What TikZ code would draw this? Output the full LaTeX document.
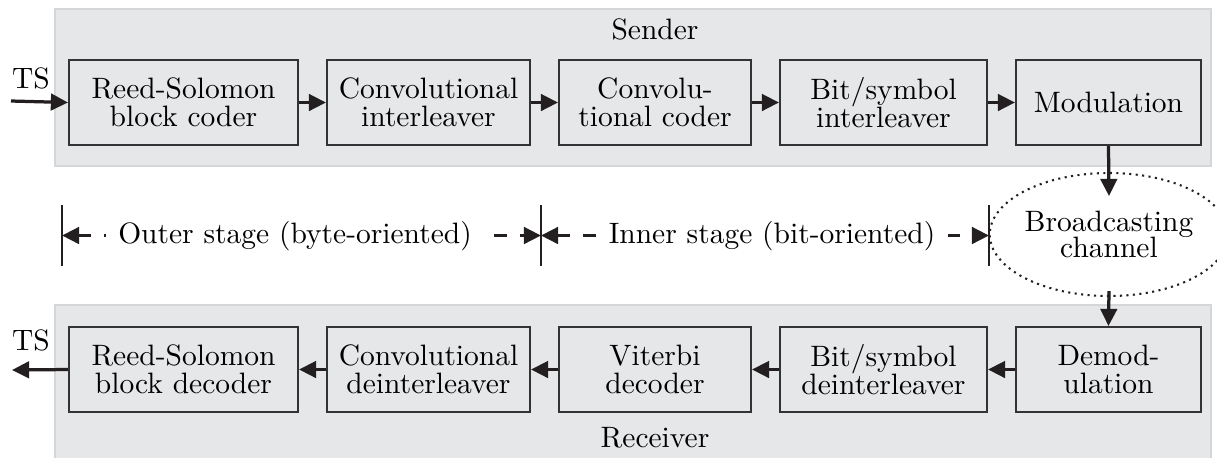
\documentclass[tikz,border=0pt]{standalone}
\usetikzlibrary{arrows.meta,shapes.geometric}
\definecolor{panelgray}{HTML}{E6E7E8}
\definecolor{paneledge}{HTML}{D5D6D7}
\definecolor{boxedge}{HTML}{333333}
\definecolor{ink}{HTML}{231F20}
% one drawing unit
\def\pxu{0.339pt}
\tikzset{
  stagearea/.style={fill=panelgray, draw=paneledge, line width=0.5pt, inner sep=0pt},
  block/.style={draw=boxedge, line width=0.7pt, inner sep=0pt, align=center,
    minimum height=85*\pxu, font=\fontsize{10}{9.5}\selectfont},
  tip/.tip={Triangle[length=5.8pt,width=5.6pt]},
  flow/.style={draw=ink, line width=1.1pt, -tip},
  limitbar/.style={draw=ink, line width=1pt},
  spanline/.style={draw=ink, line width=1.1pt, dash pattern=on 4.4pt off 4.4pt, tip-tip},
  spantext/.style={fill=white, inner sep=4.2pt, anchor=base},
  caption/.style={anchor=base, inner sep=0pt},
  channel/.style={ellipse, draw=ink, line width=0.7pt, dash pattern=on 0.7pt off 1.5pt,
    inner sep=0pt, align=center, font=\fontsize{10}{9}\selectfont}
}
\begin{document}
\begin{tikzpicture}[x=0.339pt,y=-0.339pt]
\useasboundingbox (0,0) rectangle (1217,457);

% sender and receiver panels
\node[stagearea, minimum width=1156*\pxu, minimum height=157*\pxu] (sender) at (633,87.5) {};
\node[stagearea, minimum width=1156*\pxu, minimum height=154*\pxu] (receiver) at (633,382) {};
\node[caption] (sendlab) at (655,39) {Sender};
\node[caption] (recvlab) at (655,447) {Receiver};

% sender chain
\node[block, minimum width=229*\pxu] (rsc) at (183.5,102.5) {Reed-Solomon\\block coder};
\node[block, minimum width=203*\pxu] (cil) at (428.5,102.5) {Convolutional\\interleaver};
\node[block, minimum width=192*\pxu] (cc)  at (655,102.5)   {Convolu-\\tional coder};
\node[block, minimum width=207*\pxu] (bsi) at (883.5,102.5) {Bit/symbol\\interleaver};
\node[block, minimum width=185*\pxu] (mod) at (1108.5,102.5) {Modulation};

% receiver chain
\node[block, minimum width=229*\pxu] (rsd) at (183.5,369.5) {Reed-Solomon\\block decoder};
\node[block, minimum width=203*\pxu] (cdi) at (428.5,369.5) {Convolutional\\deinterleaver};
\node[block, minimum width=192*\pxu] (vit) at (655,369.5)   {Viterbi\\decoder};
\node[block, minimum width=207*\pxu] (bsd) at (883.5,369.5) {Bit/symbol\\deinterleaver};
\node[block, minimum width=185*\pxu] (dem) at (1108.5,369.5) {Demod-\\ulation};

% channel
\node[channel, minimum width=210*\pxu, minimum height=123*\pxu] (chan) at (1109,234.5) {Broadcasting\\channel};
\coordinate (chanin)  at ([yshift=-24*\pxu]chan.north);
\coordinate (chanout) at ([yshift=6*\pxu]chan.south);

% transport stream in and out
\coordinate (tsin)  at (11,101);
\coordinate (tsout) at (12,370);
\node[caption] (tsinlab)  at (31,88)  {TS};
\node[caption] (tsoutlab) at (31,350) {TS};

% signal flow
\draw[flow] (tsin) -- (rsc.west);
\draw[flow] (rsc.east) -- (cil.west);
\draw[flow] (cil.east) -- (cc.west);
\draw[flow] (cc.east) -- (bsi.west);
\draw[flow] (bsi.east) -- (mod.west);
\draw[flow] (mod.south) -- (chanin);
\draw[flow] (chanout) -- (dem.north);
\draw[flow] (dem.west) -- (bsd.east);
\draw[flow] (bsd.west) -- (vit.east);
\draw[flow] (vit.west) -- (cdi.east);
\draw[flow] (cdi.west) -- (rsd.east);
\draw[flow] (rsd.west) -- (tsout);

% coding stages
\coordinate (lim1) at (62,235.5);
\coordinate (lim2) at (541,235.5);
\coordinate (lim3) at (989,235.5);
\foreach \c in {lim1,lim2,lim3}
  \draw[limitbar] ([yshift=30.5*\pxu]\c) -- ([yshift=-30.5*\pxu]\c);
\draw[spanline] (lim1) -- (lim2);
\draw[spanline] (lim2) -- (lim3);
\node[spantext] (outer) at (295,243) {Outer stage (byte-oriented)};
\node[spantext] (inner) at (772,243) {Inner stage (bit-oriented)};
\end{tikzpicture}
\end{document}
